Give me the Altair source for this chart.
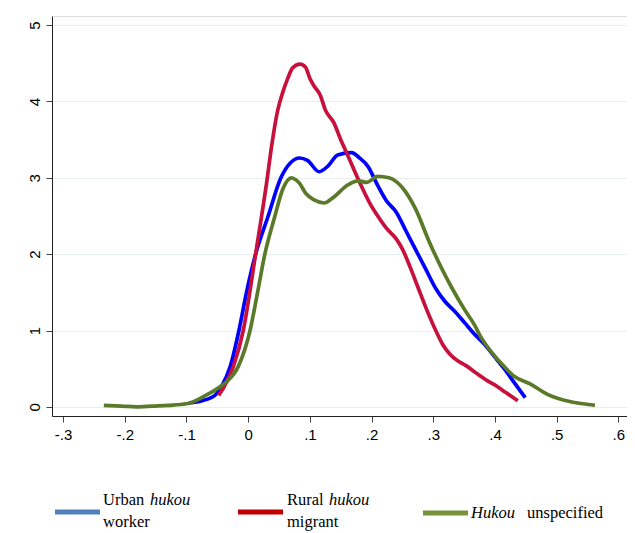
import altair as alt
import pandas as pd

# ---- data ----
urban_x = [-0.096, -0.075, -0.054, -0.043, -0.029, -0.015, -0.003, 0.012, 0.032, 0.053,
           0.069, 0.083, 0.096, 0.115, 0.130, 0.145, 0.168, 0.179, 0.195, 0.208, 0.224,
           0.240, 0.256, 0.272, 0.288, 0.304, 0.319, 0.335, 0.351, 0.367, 0.383, 0.399, 0.415,
           0.431, 0.449]
urban_y = [0.05, 0.08, 0.15, 0.27, 0.53, 1.00, 1.49, 2.00, 2.49, 3.00,
           3.20, 3.26, 3.23, 3.08, 3.16, 3.30, 3.33, 3.27, 3.14, 2.93, 2.70,
           2.55, 2.30, 2.05, 1.80, 1.55, 1.38, 1.25, 1.10, 0.95, 0.82, 0.66, 0.50,
           0.32, 0.12]

rural_x = [-0.048, -0.040, -0.024, -0.008, 0.012, 0.031, 0.037, 0.048, 0.056, 0.064, 0.072,
           0.084, 0.093, 0.100, 0.107, 0.117, 0.125, 0.139, 0.150, 0.160, 0.179,
           0.197, 0.210, 0.224, 0.240, 0.251, 0.263, 0.275, 0.288, 0.304, 0.315, 0.327, 0.340,
           0.353, 0.370, 0.388, 0.403, 0.417, 0.437]
rural_y = [0.15, 0.25, 0.53, 1.00, 2.00, 3.00, 3.36, 3.89, 4.12, 4.30, 4.44,
           4.49, 4.45, 4.30, 4.20, 4.08, 3.89, 3.72, 3.50, 3.32, 2.97,
           2.67, 2.50, 2.34, 2.20, 2.05, 1.82, 1.57, 1.30, 1.00, 0.82, 0.69, 0.60,
           0.54, 0.44, 0.34, 0.27, 0.19, 0.08]

unspec_x = [-0.234, -0.205, -0.181, -0.155, -0.129, -0.100, -0.071, -0.048, -0.035, -0.016,
            0.003, 0.015, 0.027, 0.043, 0.056, 0.070, 0.078, 0.083, 0.093, 0.107,
            0.123, 0.139, 0.160, 0.179, 0.192, 0.210, 0.228, 0.240, 0.250, 0.272, 0.292,
            0.315, 0.330, 0.351, 0.367, 0.376, 0.394, 0.410, 0.431, 0.457, 0.486, 0.521,
            0.543, 0.562]
unspec_y = [0.02, 0.01, 0.00, 0.01, 0.02, 0.04, 0.14, 0.25, 0.33, 0.53,
            1.00, 1.49, 2.00, 2.49, 2.85, 3.00, 2.97, 2.93, 2.80, 2.71,
            2.67, 2.75, 2.90, 2.96, 2.94, 3.02, 3.00, 2.95, 2.87, 2.58, 2.19,
            1.79, 1.56, 1.27, 1.07, 0.93, 0.72, 0.57, 0.40, 0.30, 0.16, 0.07,
            0.04, 0.02]

series_names = ["Urban hukou worker", "Rural hukou migrant", "Hukou unspecified"]
line_colors = ["#0000ff", "#c8103c", "#5a7a2a"]
legend_colors = ["#4f81bd", "#c00000", "#77933c"]

x_ticks = [-0.3, -0.2, -0.1, 0.0, 0.1, 0.2, 0.3, 0.4, 0.5, 0.6]
y_ticks = [0, 1, 2, 3, 4, 5]

series_data = [(urban_x, urban_y), (rural_x, rural_y), (unspec_x, unspec_y)]

rows = []
for name, (xs, ys) in zip(series_names, series_data):
    for xv, yv in zip(xs, ys):
        rows.append({"series": name, "x": xv, "y": yv})
df = pd.DataFrame(rows)

x_enc = alt.X(
    "x:Q",
    scale=alt.Scale(domain=[-0.318, 0.614], nice=False, zero=False),
    axis=alt.Axis(
        values=x_ticks, title=None, grid=False,
        labelExpr="datum.value == 0 ? '0' : (datum.value < 0 ? '-' : '') + '.' + toString(round(abs(datum.value) * 10))",
        labelFont="Liberation Sans", labelFontSize=15, labelColor="#000",
        tickSize=6, tickColor="#444", domainColor="#222", labelPadding=5,
    ),
)
y_enc = alt.Y(
    "y:Q",
    scale=alt.Scale(domain=[-0.12, 5.12], nice=False, zero=False),
    axis=alt.Axis(
        values=y_ticks, title=None, grid=True, gridColor="#e6eeee", gridWidth=1,
        labelAngle=-90, labelAlign="center", labelBaseline="bottom",
        labelFont="Liberation Sans", labelFontSize=15, labelColor="#000",
        tickSize=6, tickColor="#444", domainColor="#222", labelPadding=4,
    ),
)

layers = []
for i, name in enumerate(series_names):
    layers.append(
        alt.Chart(df)
        .transform_filter(alt.datum.series == name)
        .mark_line(strokeWidth=3.7, interpolate="monotone", color=line_colors[i])
        .encode(x=x_enc, y=y_enc)
    )

# ---- legend drawn below the plot ----
one = pd.DataFrame({"k": [0]})
serif = "Liberation Serif"
fs = 16.5


def rule(x1, x2, yy, color):
    return alt.Chart(one).mark_rule(strokeWidth=5, color=color).encode(
        x=alt.value(x1), x2=alt.value(x2), y=alt.value(yy))


def txt(s, xx, yy, italic=False):
    return alt.Chart(one).mark_text(
        text=s, font=serif, fontSize=fs, fontStyle="italic" if italic else "normal",
        align="left", baseline="middle", color="#000",
    ).encode(x=alt.value(xx), y=alt.value(yy))


legend = [
    rule(3, 48, 496, legend_colors[0]),
    txt("Urban", 51, 484), txt("hukou", 98, 484, italic=True), txt("worker", 51, 506),
    rule(186, 231, 496, legend_colors[1]),
    txt("Rural", 235, 484), txt("hukou", 277, 484, italic=True), txt("migrant", 235, 506),
    rule(371, 416, 497, legend_colors[2]),
    txt("Hukou", 419, 497, italic=True), txt("unspecified", 475, 497),
]

chart = alt.layer(*layers, *legend).properties(
    width=575, height=400,
    autosize=alt.AutoSizeParams(type="none"),
    padding={"left": 44, "top": 8, "right": 0, "bottom": 117},
).configure_view(stroke=None).configure(background="white")

chart.save("out.html", embed_options={"renderer": "svg", "actions": False})
